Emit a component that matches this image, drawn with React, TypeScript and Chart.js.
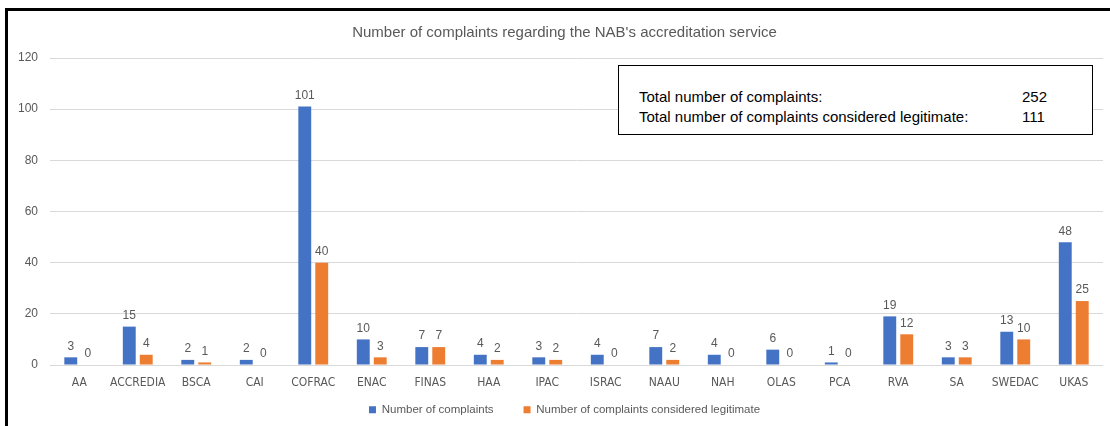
import React, { useEffect, useRef } from "react";
import { Chart, registerables } from "chart.js";

Chart.register(...registerables);

const categories = ["AA", "ACCREDIA", "BSCA", "CAI", "COFRAC", "ENAC", "FINAS", "HAA", "IPAC", "ISRAC", "NAAU", "NAH", "OLAS", "PCA", "RVA", "SA", "SWEDAC", "UKAS"];
const complaints = [3, 15, 2, 2, 101, 10, 7, 4, 3, 4, 7, 4, 6, 1, 19, 3, 13, 48];
const legitimate = [0, 4, 1, 0, 40, 3, 7, 2, 2, 0, 2, 0, 0, 0, 12, 3, 10, 25];
const seriesNames = ["Number of complaints", "Number of complaints considered legitimate"];
const titleText = "Number of complaints regarding the NAB's accreditation service";
const totalLabels = ["Total number of complaints:", "Total number of complaints considered legitimate:"];
const totalValues = [252, 111];

const FONT = "'Liberation Sans', 'DejaVu Sans', sans-serif";
const NARROW = "'Liberation Sans Narrow', 'DejaVu Sans Condensed', 'Liberation Sans', sans-serif";
const GREY = "#595959";

const valueLabels = {
  id: "valueLabels",
  afterDatasetsDraw(chart: any) {
    const ctx = chart.ctx;
    ctx.save();
    ctx.font = `12px ${FONT}`;
    ctx.fillStyle = GREY;
    ctx.textAlign = "center";
    ctx.textBaseline = "bottom";
    chart.data.datasets.forEach((ds: any, i: number) => {
      const meta = chart.getDatasetMeta(i);
      meta.data.forEach((el: any, j: number) => {
        ctx.fillText(String(ds.data[j]), el.x, el.y - 5);
      });
    });
    ctx.restore();
  },
};

export default function App() {
  const ref = useRef<HTMLCanvasElement>(null);
  useEffect(() => {
    if (!ref.current) return;
    const chart = new Chart(ref.current, {
      type: "bar",
      data: {
        labels: categories,
        datasets: [
          { label: seriesNames[0], data: complaints, backgroundColor: "#4472C4", categoryPercentage: 0.58, barPercentage: 0.76, yAxisID: "y" },
          { label: seriesNames[1], data: legitimate, backgroundColor: "#ED7D31", categoryPercentage: 0.58, barPercentage: 0.76, yAxisID: "y" },
        ],
      },
      options: {
        animation: false,
        responsive: false,
        maintainAspectRatio: false,
        layout: { padding: { left: 0, right: 0, top: 0, bottom: 0.5 } },
        plugins: {
          title: {
            display: true,
            text: titleText,
            color: GREY,
            font: { family: FONT, size: 15, weight: "normal", lineHeight: 1.2 },
            padding: { top: 24, bottom: 16 },
          },
          legend: {
            position: "bottom",
            labels: {
              color: GREY,
              font: { family: FONT, size: 11.5 },
              boxWidth: 7,
              boxHeight: 7,
              padding: 14,
              generateLabels: (c: any) => {
                const items = Chart.defaults.plugins.legend.labels.generateLabels(c);
                return items.map((it: any, i: number) => (i === 0 ? { ...it, text: it.text + "\u00A0\u00A0\u00A0\u00A0\u00A0" } : it));
              },
            },
          },
          tooltip: { enabled: false },
        },
        scales: {
          x: {
            grid: { display: false, drawTicks: false },
            border: { display: false },
            ticks: { color: GREY, font: { family: NARROW, size: 12 }, padding: 11, autoSkip: false, maxRotation: 0 },
            afterFit: (s: any) => { s.height = 25; },
          },
          y: {
            position: "left",
            min: 0,
            max: 120,
            grid: { color: "#D9D9D9", drawTicks: false },
            border: { display: false },
            ticks: { stepSize: 20, color: GREY, font: { family: FONT, size: 12 }, padding: 12 },
            afterFit: (s: any) => { s.width = 50; },
          },
          spacer: {
            position: "right",
            min: 0,
            max: 120,
            grid: { display: false, drawTicks: false },
            border: { display: false },
            ticks: { display: false },
            afterFit: (s: any) => { s.width = 26; },
          },
        },
      },
      plugins: [valueLabels],
    });
    return () => chart.destroy();
  }, []);

  return (
    <div style={{ position: "absolute", left: 0, top: 0, width: 1110, height: 426, overflow: "hidden", background: "#fff" }}>
      <canvas ref={ref} width={1129} height={426} style={{ position: "absolute", left: 0, top: 0 }} />
      <div style={{ position: "absolute", left: 5, top: 8, width: 1110, height: 426, borderLeft: "3px solid #000", borderTop: "3px solid #000" }} />
      <div
        style={{
          position: "absolute",
          left: 618,
          top: 65,
          width: 473,
          height: 68,
          border: "1px solid #000",
          background: "#fff",
          fontFamily: FONT,
          fontSize: 15,
          color: "#000",
        }}
      >
        {totalLabels.map((t, i) => (
          <div key={i} style={{ position: "absolute", left: 20, top: 21 + i * 20, width: 440, lineHeight: "20px", whiteSpace: "nowrap" }}>
            <span>{t}</span>
            <span style={{ position: "absolute", left: 383 }}>{totalValues[i]}</span>
          </div>
        ))}
      </div>
    </div>
  );
}
